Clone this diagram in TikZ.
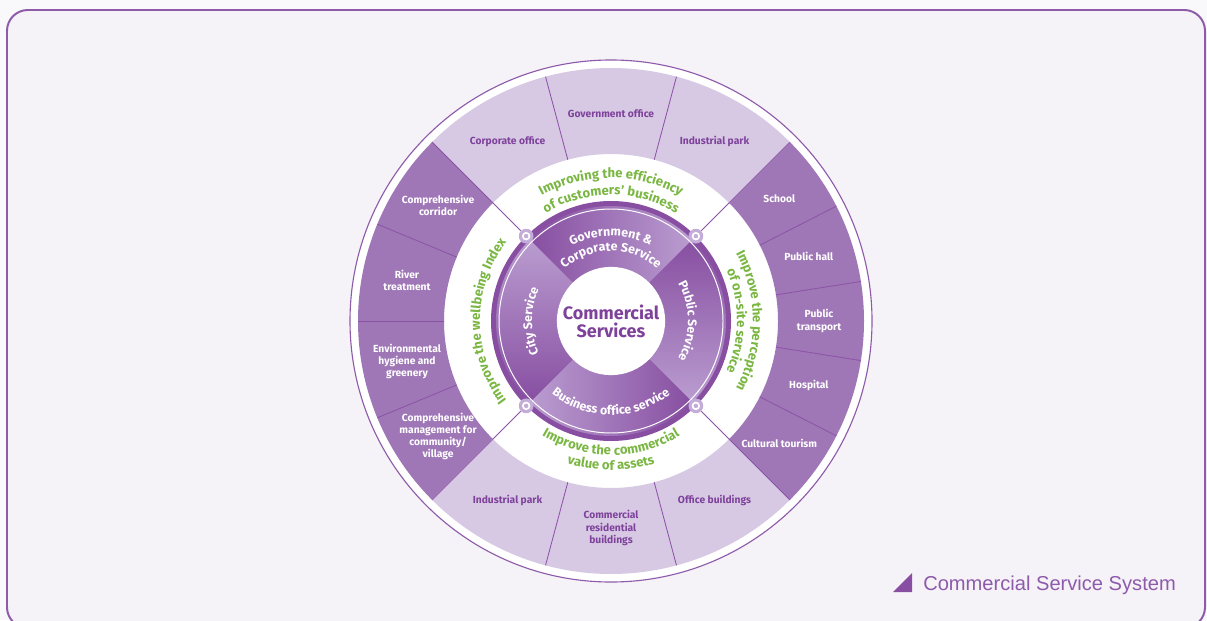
\documentclass[tikz,border=0pt]{standalone}
\usepackage{fontspec}
\setmainfont{Fira Sans}
\newfontfamily\legendfont{Liberation Sans}
\usepackage{tikz}
\usetikzlibrary{decorations.text}
\definecolor{framepurple}{RGB}{142,91,170}
\definecolor{wheelpurple}{RGB}{135,78,161}
\definecolor{wheelline}{RGB}{140,82,165}
\definecolor{lightseg}{RGB}{215,201,228}
\definecolor{darkseg}{RGB}{159,119,183}
\definecolor{labelpurple}{RGB}{126,66,155}
\definecolor{quadlight}{RGB}{186,157,208}
\definecolor{markerlight}{RGB}{196,172,216}
\definecolor{aimgreen}{RGB}{122,182,66}
\definecolor{paper}{RGB}{245,242,248}
\definecolor{outside}{RGB}{249,249,251}
\newcommand{\seglabelfont}{\bfseries\fontsize{7.3}{8.7}\selectfont}
\newcommand{\aimfont}{\bfseries\fontsize{9.3}{10}\selectfont}
\newcommand{\quadfont}{\bfseries\fontsize{8.8}{9}\selectfont}
% text along an arc round the hub: radius, start, end, colour, text
\newcommand{\arctext}[5]{%
  \path[decorate,decoration={text along path,text align=center,
    text color=#4,text={#5}}] (#2:#1) arc[start angle=#2,end angle=#3,radius=#1];}

\begin{document}
\begin{tikzpicture}[x=0.025cm,y=0.025cm,line join=round,
  seglabel/.style={font=\seglabelfont,align=center,inner sep=1pt},
  segline/.style={draw=wheelline,line width=0.6pt},
  marker/.style={circle,fill=markerlight,minimum size=10.5pt,inner sep=0pt,
    path picture={\fill[white] (path picture bounding box.center) circle[radius=3pt];
      \fill[markerlight] (path picture bounding box.center) circle[radius=1.6pt];}}]
  \useasboundingbox (0,0) rectangle (1207,620);
  \fill[outside] (0,0) rectangle (1207,620);
  \draw[framepurple,line width=1.4pt,fill=paper,rounded corners=0.52cm] (7,-8) rectangle (1205,610);
  % --- the wheel ---
  \begin{scope}[shift={(611,299)}]
    \filldraw[fill=white,draw=framepurple,line width=0.8pt] (0,0) circle[radius=261];
    % light segments
    \foreach \a/\b/\txt [count=\i] in {45/75/Industrial park,75/105/Government office,
        105/135/Corporate office,225/255/Industrial park,
        255/285/{Commercial\\residential\\buildings},285/315/Office buildings}
    {
      \fill[lightseg] (\a:167) arc[start angle=\a,end angle=\b,radius=167]
        -- (\b:253) arc[start angle=\b,end angle=\a,radius=253] -- cycle;
      \draw[segline] (\a:167) -- (\a:253);
      \node[seglabel,text=labelpurple] (lt\i) at ({(\a+\b)/2}:207) {\txt};
    }
    % dark segments
    \foreach \a/\b/\txt [count=\i] in {135/157.5/{Comprehensive\\corridor},
        157.5/180/{River\\treatment},180/202.5/{Environmental\\hygiene and\\greenery},
        202.5/225/{Comprehensive\\management for\\community/\\village},
        315/333/Cultural tourism,333/351/Hospital,351/369/{Public\\transport},
        369/387/Public hall,387/405/School}
    {
      \fill[darkseg] (\a:167) arc[start angle=\a,end angle=\b,radius=167]
        -- (\b:253) arc[start angle=\b,end angle=\a,radius=253] -- cycle;
      \draw[segline] (\a:167) -- (\a:253);
      \node[seglabel,text=white] (dk\i) at ({(\a+\b)/2}:208) {\txt};
    }
    % service disc, one shaded quarter per service
    \fill[wheelpurple] (0,0) circle[radius=120];
    \shade[left color=wheelpurple,right color=quadlight] (45:54) arc[start angle=45,end angle=135,radius=54]
      -- (135:115) arc[start angle=135,end angle=45,radius=115] -- cycle;
    \shade[top color=wheelpurple,bottom color=quadlight] (-45:54) arc[start angle=-45,end angle=45,radius=54]
      -- (45:115) arc[start angle=45,end angle=-45,radius=115] -- cycle;
    \shade[left color=quadlight,right color=wheelpurple] (225:54) arc[start angle=225,end angle=315,radius=54]
      -- (315:115) arc[start angle=315,end angle=225,radius=115] -- cycle;
    \shade[top color=quadlight,bottom color=wheelpurple] (135:54) arc[start angle=135,end angle=225,radius=54]
      -- (225:115) arc[start angle=225,end angle=135,radius=115] -- cycle;
    \draw[white,line width=0.7pt] (0,0) circle[radius=112];
    \node[circle,fill=white,minimum size=77pt,inner sep=0pt,align=center,text=labelpurple,
      font=\bfseries\fontsize{12.8}{13}\selectfont] (hub) at (0,0) {Commercial\\Services};
    \foreach \a [count=\i] in {45,135,225,315} {
      \node[marker] (mk\i) at (\a:120) {};
      \draw[segline] (mk\i) -- (\a:167);
    }
    % services
    \arctext{85}{160}{20}{white}{|\quadfont|Government {\&}}
    \arctext{70}{160}{20}{white}{|\quadfont|Corporate Service}
    \arctext{77}{70}{-70}{white}{|\quadfont|Public Service}
    \arctext{94}{200}{340}{white}{|\quadfont|Business office service}
    \arctext{79}{250}{110}{white}{|\quadfont|City Service}
    % aims
    \arctext{143}{150}{30}{aimgreen}{|\aimfont|Improving the efficiency}
    \arctext{126}{150}{30}{aimgreen}{|\aimfont|of customers' business}
    \arctext{142}{60}{-60}{aimgreen}{|\aimfont|Improve the perception}
    \arctext{126}{60}{-60}{aimgreen}{|\aimfont|of on-site service}
    \arctext{134}{210}{330}{aimgreen}{|\aimfont|Improve the commercial}
    \arctext{149}{210}{330}{aimgreen}{|\aimfont|value of assets}
    \arctext{131}{240}{120}{aimgreen}{|\aimfont|Improve the wellbeing Index}
  \end{scope}
  % --- legend ---
  \fill[wheelpurple] (893,28) -- (912,28) -- (912,47) -- cycle;
  \node[anchor=base west,inner sep=0pt,text=framepurple,
    font=\legendfont\fontsize{14.3}{16}\selectfont] (legend) at (923,30) {Commercial Service System};
\end{tikzpicture}
\end{document}
